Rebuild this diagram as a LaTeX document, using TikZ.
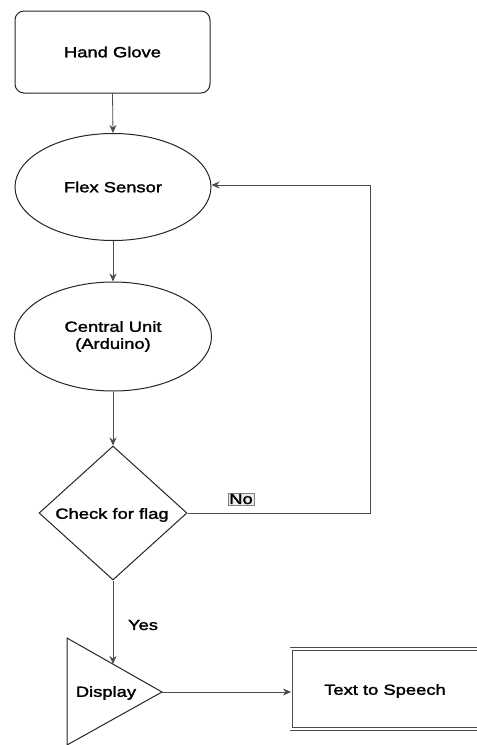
\documentclass[tikz,border=0pt]{standalone}
\usepackage{fontspec}
\setmainfont{Liberation Sans}[FakeStretch=1.25,FakeBold=1.8]
\usetikzlibrary{shapes.geometric,arrows.meta}
\begin{document}
\begin{tikzpicture}[x=1pt,y=-1pt,
  every node/.style={font=\fontsize{14.7}{17}\selectfont},
  shapeline/.style={draw=black!85,line width=1pt},
  conn/.style={draw=black!70,line width=0.8pt,-{Stealth[length=8pt,width=7pt]}},
  plain/.style={draw=black!70,line width=0.8pt}]
\clip (0,0) rectangle (477,745);
\fill[white] (0,0) rectangle (477,745);
% nodes
\node[shapeline,rounded corners=9pt,minimum width=195,minimum height=82,inner sep=0] (glove) at (112.5,52) {Hand Glove};
\node[shapeline,ellipse,minimum width=196,minimum height=107,inner sep=0] (flex) at (113,187) {Flex Sensor};
\node[shapeline,ellipse,minimum width=197,minimum height=109,inner sep=0,align=center] (cu) at (113,336.5) {Central Unit\\(Arduino)};
\node[shapeline,diamond,minimum width=148,minimum height=134,inner sep=0] (chk) at (113,513) {};
\node (chktxt) at (112,515) {Check for flag};
% triangle display
\coordinate (tA) at (67,638);
\coordinate (tB) at (67,745);
\coordinate (tC) at (162,692);
\draw[shapeline] (tA) -- (tC) -- (tB) -- cycle;
\node (disp) at (106,693) {Display};
\coordinate (tin) at (113,664);
% text to speech
\node[draw=black!70,double=white,double distance=2pt,line width=0.8pt,minimum width=194,minimum height=80,inner sep=0,anchor=west] (tts) at (291,689) {};
\node (ttstxt) at (385,691) {Text to Speech};
% connectors
\draw[conn] (glove.south) -- (flex.north);
\draw[conn] (flex.south) -- (cu.north);
\draw[conn] (cu.south) -- (chk.north);
\coordinate (fb2) at (370,185);
\draw[conn] (chk.east) -| (fb2) -- (flex.east |- fb2);
\draw[conn] (chk.south) -- (tin);
\draw[conn] (tC) -- (tts.west |- tC);
% labels
\node[draw=black!50,fill=black!8,line width=0.4pt,inner sep=1pt] (no) at (241,499) {No};
\node (yes) at (143,625) {Yes};
\end{tikzpicture}
\end{document}
